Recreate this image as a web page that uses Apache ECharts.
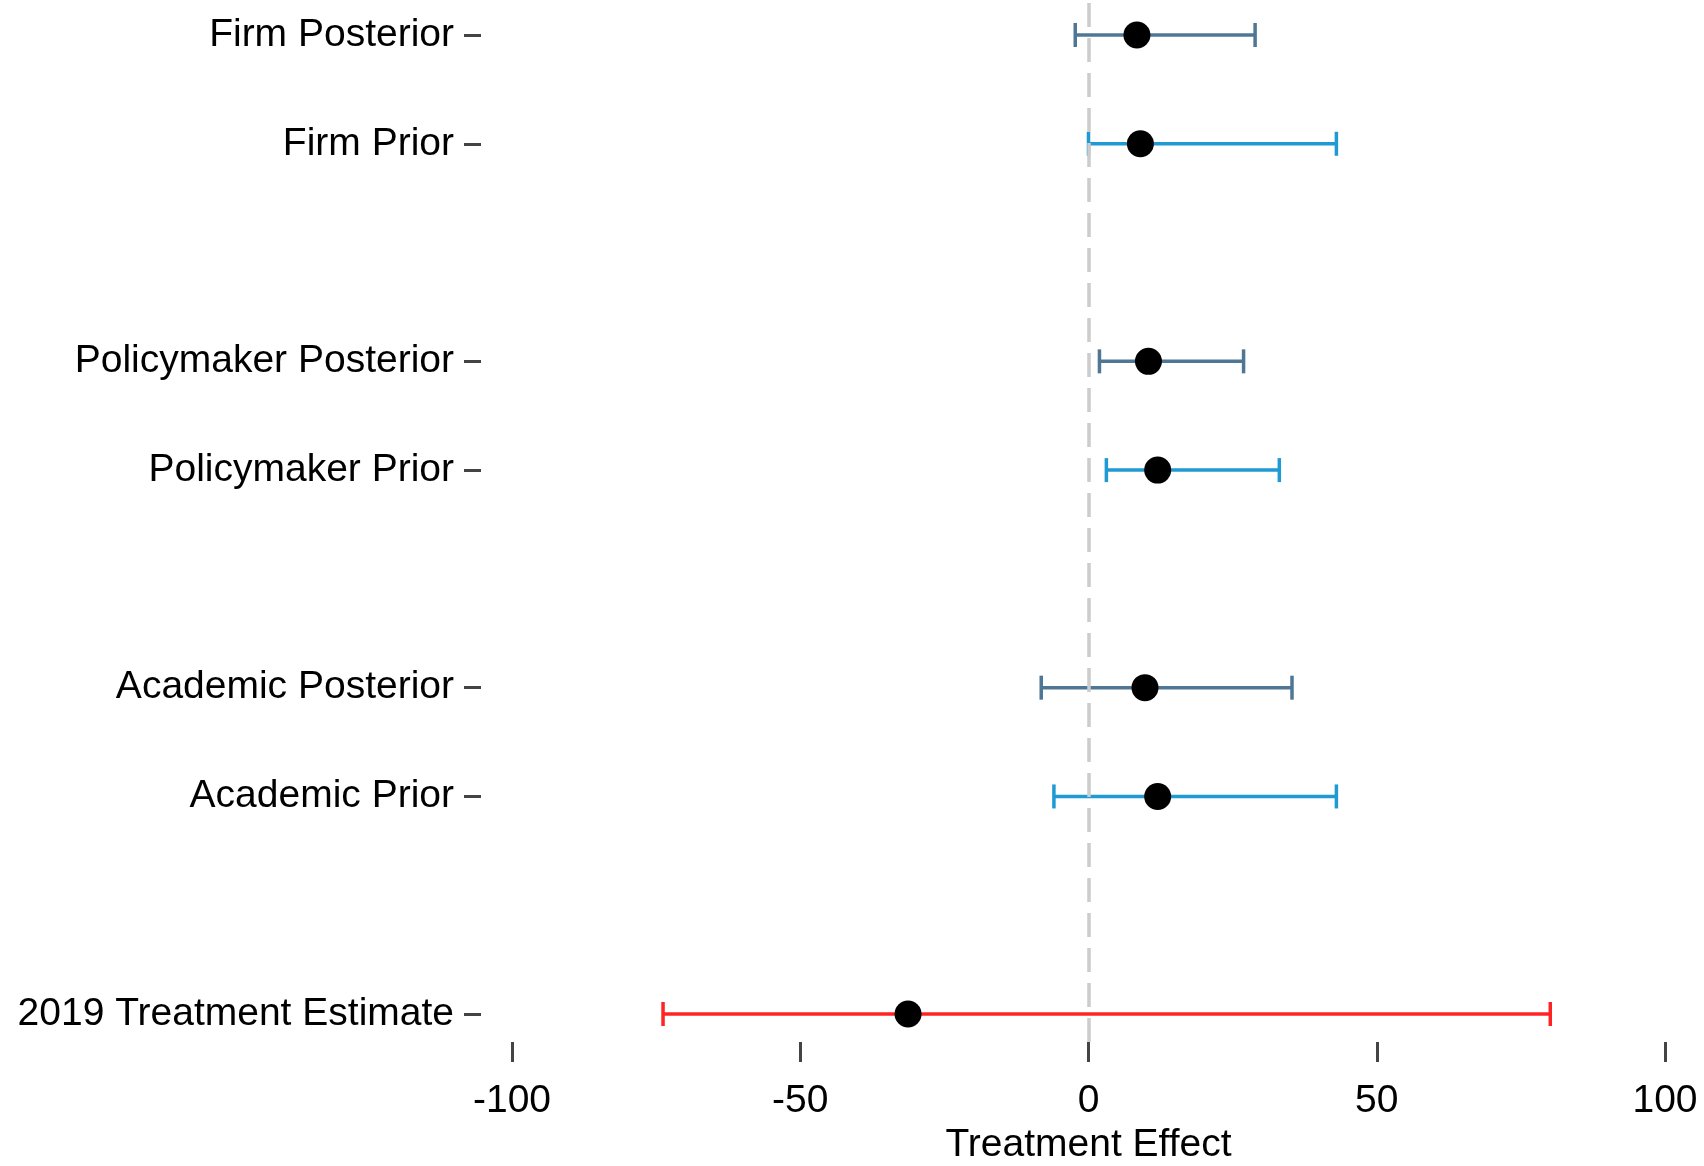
<!DOCTYPE html>
<html>
<head>
<meta charset="utf-8">
<script src="https://cdn.jsdelivr.net/npm/echarts@6/dist/echarts.min.js"></script>
<style>
html,body{margin:0;padding:0;background:#fff;}
#chart{width:1704px;height:1166px;}
</style>
</head>
<body>
<div id="chart"></div>
<script>
// Rows from top to bottom (blank entries are spacer rows)
const categories = ['Firm Posterior', 'Firm Prior', ' ', 'Policymaker Posterior', 'Policymaker Prior', '  ', 'Academic Posterior', 'Academic Prior', '   ', '2019 Treatment Estimate'];

// Posterior estimates
const posteriorRows = ['Firm Posterior', 'Policymaker Posterior', 'Academic Posterior'];
const posteriorLow  = [-2.3, 1.9, -8.2];
const posteriorEst  = [8.4, 10.4, 9.8];
const posteriorHigh = [28.9, 26.9, 35.3];

// Prior estimates
const priorRows = ['Firm Prior', 'Policymaker Prior', 'Academic Prior'];
const priorLow  = [0.0, 3.1, -6.0];
const priorEst  = [9.0, 12.0, 12.0];
const priorHigh = [43.0, 33.1, 43.0];

// 2019 treatment estimate
const actualRows = ['2019 Treatment Estimate'];
const actualLow  = [-73.8];
const actualEst  = [-31.3];
const actualHigh = [80.1];

const xTicks = [-100, -50, 0, 50, 100];

const FONT = "'Liberation Sans', Arial, sans-serif";
const FS = 39;

function errData(rows, low, high) {
  return rows.map((r, i) => [low[i], high[i], categories.indexOf(r)]);
}
function ptData(rows, est) {
  return rows.map((r, i) => [est[i], categories.indexOf(r)]);
}
function errSeries(name, rows, low, high, color) {
  return {
    name: name,
    type: 'custom',
    xAxisIndex: 0, yAxisIndex: 0,
    z: 3,
    silent: true,
    encode: { x: [0, 1], y: 2 },
    data: errData(rows, low, high),
    renderItem: function (params, api) {
      const yi = api.value(2);
      const p1 = api.coord([api.value(0), yi]);
      const p2 = api.coord([api.value(1), yi]);
      const cap = 12;
      const style = { stroke: color, lineWidth: 3.5 };
      return {
        type: 'group',
        children: [
          { type: 'line', shape: { x1: p1[0], y1: p1[1], x2: p2[0], y2: p2[1] }, style: style },
          { type: 'line', shape: { x1: p1[0], y1: p1[1] - cap, x2: p1[0], y2: p1[1] + cap }, style: style },
          { type: 'line', shape: { x1: p2[0], y1: p2[1] - cap, x2: p2[0], y2: p2[1] + cap }, style: style }
        ]
      };
    }
  };
}

const chart = echarts.init(document.getElementById('chart'), null, { renderer: 'canvas' });

chart.setOption({
  animation: false,
  backgroundColor: '#ffffff',
  grid: [
    { left: 512, right: 39, top: 35, bottom: 152, containLabel: false, outerBoundsMode: 'none' },
    { left: 512, right: 39, top: 0, bottom: 124, containLabel: false, outerBoundsMode: 'none' }
  ],
  xAxis: [
    {
      type: 'value', gridIndex: 0,
      min: -100, max: 100, interval: 50,
      position: 'bottom', offset: 28,
      name: 'Treatment Effect', nameLocation: 'middle', nameGap: 84,
      nameTextStyle: { fontFamily: FONT, fontSize: FS, color: '#000' },
      axisLine: { show: false, onZero: false },
      axisTick: { show: true, length: 20, lineStyle: { color: '#444', width: 3 } },
      axisLabel: { fontFamily: FONT, fontSize: FS, color: '#000', margin: 40,
        formatter: v => (xTicks.indexOf(v) >= 0 ? String(v) : '') },
      splitLine: { show: false }
    },
    { type: 'value', gridIndex: 1, min: -100, max: 100, show: false }
  ],
  yAxis: [
    {
      type: 'category', gridIndex: 0, data: categories, inverse: true,
      boundaryGap: false, offset: 31,
      axisLine: { show: false, onZero: false },
      axisTick: { show: true, length: 17, lineStyle: { color: '#444', width: 3 },
        interval: (idx, val) => val.trim() !== '' },
      axisLabel: { fontFamily: FONT, fontSize: FS, color: '#000', margin: 27, interval: 0,
        padding: [6, 0, 0, 0] },
      splitLine: { show: false }
    },
    { type: 'value', gridIndex: 1, min: 0, max: 1, show: false }
  ],
  series: [
    {
      type: 'line', xAxisIndex: 1, yAxisIndex: 1, z: 1, silent: true,
      data: [[0, 0.5]], symbol: 'none', lineStyle: { opacity: 0 },
      markLine: {
        silent: true, symbol: 'none', label: { show: false },
        lineStyle: { color: '#cccccc', width: 3.5, type: [24, 11] },
        data: [{ xAxis: 0 }]
      }
    },
    errSeries('Posterior', posteriorRows, posteriorLow, posteriorHigh, '#4f7795'),
    errSeries('Prior', priorRows, priorLow, priorHigh, '#1f9ad2'),
    errSeries('2019', actualRows, actualLow, actualHigh, '#ff2424'),
    {
      type: 'scatter', xAxisIndex: 0, yAxisIndex: 0, z: 5, silent: true,
      symbol: 'circle', symbolSize: 27,
      itemStyle: { color: '#000000', opacity: 1 },
      data: ptData(posteriorRows, posteriorEst)
        .concat(ptData(priorRows, priorEst))
        .concat(ptData(actualRows, actualEst))
    }
  ]
});
</script>
</body>
</html>
